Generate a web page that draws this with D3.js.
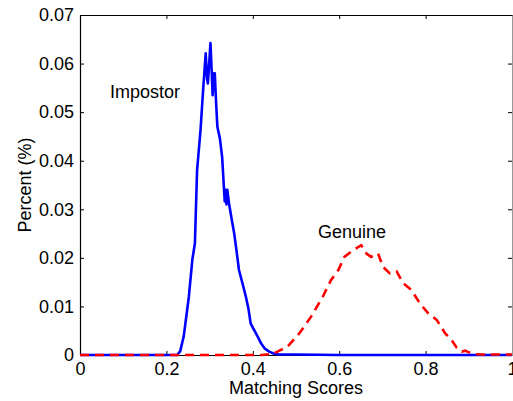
<!DOCTYPE html>
<html>
<head>
<meta charset="utf-8">
<script src="https://cdn.jsdelivr.net/npm/d3@7"></script>
<style>
  body { margin: 0; background: #fff; }
  svg text { font-family: "Liberation Sans", Arial, Helvetica, sans-serif; }
</style>
</head>
<body>
<div id="chart"></div>
<script>
// matching score (x) and percent (y)
const impostorX = [0, 0.2, 0.225, 0.232, 0.24, 0.252, 0.26, 0.266, 0.271, 0.279, 0.285, 0.291, 0.294, 0.296, 0.299, 0.302, 0.305, 0.307, 0.310, 0.312, 0.315, 0.318, 0.324, 0.329, 0.335, 0.337, 0.339, 0.341, 0.345, 0.351, 0.357, 0.363, 0.368, 0.376, 0.384, 0.390, 0.395, 0.401, 0.407, 0.413, 0.419, 0.428, 0.438, 0.448, 0.46, 0.5, 0.6, 1.0]
const impostorY = [0, 0, 0, 0.0008, 0.0038, 0.012, 0.0196, 0.023, 0.038, 0.0463, 0.0546, 0.0621, 0.057, 0.0559, 0.060, 0.0642, 0.058, 0.0535, 0.058, 0.058, 0.052, 0.047, 0.0445, 0.0408, 0.0316, 0.034, 0.031, 0.034, 0.0312, 0.028, 0.025, 0.021, 0.0175, 0.0148, 0.012, 0.0095, 0.0065, 0.0055, 0.0045, 0.0035, 0.0024, 0.0013, 0.0007, 0.0003, 0.0001, 0.0001, 0, 0]

const genuineX = [0, 0.42, 0.445, 0.457, 0.48, 0.508, 0.535, 0.562, 0.581, 0.598, 0.612, 0.628, 0.64, 0.651, 0.663, 0.674, 0.69, 0.701, 0.717, 0.733, 0.748, 0.767, 0.787, 0.806, 0.826, 0.845, 0.86, 0.872, 0.884, 0.892, 0.899, 0.91, 0.93, 1.0]
const genuineY = [0, 0, 0.0002, 0.0007, 0.0017, 0.0045, 0.0079, 0.012, 0.0154, 0.0175, 0.0202, 0.0213, 0.022, 0.0226, 0.0209, 0.0202, 0.0209, 0.0182, 0.0168, 0.0172, 0.0148, 0.0134, 0.0106, 0.0086, 0.0072, 0.0045, 0.0031, 0.0015, 0.0007, 0.0009, 0.0006, 0.0002, 0.0001, 0.0001]

const xTicks = [0, 0.2, 0.4, 0.6, 0.8, 1]
const yTicks = [0, 0.01, 0.02, 0.03, 0.04, 0.05, 0.06, 0.07]

const dims = {
    width: 513,
    height: 401,
    margin: { top: 15, right: 1, bottom: 46, left: 80 }
}
dims.boundedWidth = dims.width - dims.margin.left - dims.margin.right
dims.boundedHeight = dims.height - dims.margin.top - dims.margin.bottom

const svg = d3.select("#chart")
    .append("svg")
    .attr("width", dims.width)
    .attr("height", dims.height)

const g = svg.append("g")
    .attr("transform", `translate(${dims.margin.left},${dims.margin.top})`)

const xScale = d3.scaleLinear().domain([0, 1]).range([0, dims.boundedWidth])
const yScale = d3.scaleLinear().domain([0, 0.07]).range([dims.boundedHeight, 0])

// box + inward ticks, matlab style
const fmt = d => String(d)

const xAxis = g.append("g")
    .attr("transform", `translate(0,${dims.boundedHeight})`)
    .call(d3.axisBottom(xScale).tickValues(xTicks).tickFormat(fmt).tickSizeInner(-4).tickSizeOuter(0).tickPadding(7))
const xTop = g.append("g")
    .call(d3.axisTop(xScale).tickValues(xTicks).tickFormat("").tickSizeInner(-4).tickSizeOuter(0))
const yAxis = g.append("g")
    .call(d3.axisLeft(yScale).tickValues(yTicks).tickFormat(fmt).tickSizeInner(-4).tickSizeOuter(0).tickPadding(6))
const yRight = g.append("g")
    .attr("transform", `translate(${dims.boundedWidth},0)`)
    .call(d3.axisRight(yScale).tickValues(yTicks).tickFormat("").tickSizeInner(-4).tickSizeOuter(0))

;[xAxis, xTop, yAxis, yRight].forEach(a => {
    a.select(".domain").attr("stroke", "#000").attr("stroke-width", 1.2)
    a.selectAll(".tick line").attr("stroke", "#000")
    a.selectAll(".tick text").attr("font-size", 18).attr("fill", "#000")
        .style("font-family", "'Liberation Sans', Arial, sans-serif")
})
yRight.select(".domain").attr("stroke", "#999").attr("stroke-width", 1)

const line = d3.line()
    .x(d => xScale(d[0]))
    .y(d => yScale(d[1]))

g.append("path")
    .datum(d3.zip(impostorX, impostorY))
    .attr("fill", "none")
    .attr("stroke", "#0000ff")
    .attr("stroke-width", 2.6)
    .attr("stroke-linejoin", "round")
    .attr("d", line)

g.append("path")
    .datum(d3.zip(genuineX, genuineY))
    .attr("fill", "none")
    .attr("stroke", "#ff0000")
    .attr("stroke-width", 2.6)
    .attr("stroke-dasharray", "9,6")
    .attr("d", line)

// annotations
svg.append("text")
    .attr("x", 110)
    .attr("y", 98)
    .attr("font-size", 18)
    .text("Impostor")

svg.append("text")
    .attr("x", 318)
    .attr("y", 238)
    .attr("font-size", 18)
    .text("Genuine")

svg.append("text")
    .attr("x", dims.margin.left + xScale(0.5))
    .attr("y", 394)
    .attr("text-anchor", "middle")
    .attr("font-size", 18)
    .text("Matching Scores")

svg.append("text")
    .attr("transform", `translate(31,${dims.margin.top + yScale(0.035)}) rotate(-90)`)
    .attr("text-anchor", "middle")
    .attr("font-size", 18)
    .text("Percent (%)")
</script>
</body>
</html>
